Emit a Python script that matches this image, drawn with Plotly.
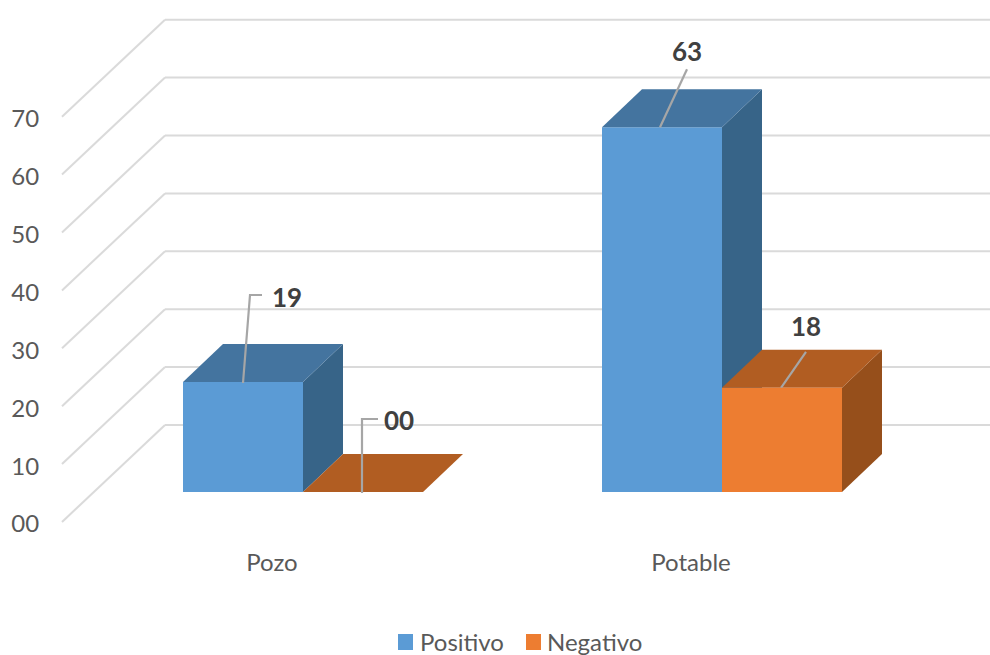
import plotly.graph_objects as go

# Chart data
categories = ["Pozo", "Potable"]
series_names = ["Positivo", "Negativo"]
positivo = [19, 63]
negativo = [0, 18]
value_labels = {"Positivo": ["19", "63"], "Negativo": ["00", "18"]}
tick_values = [0, 10, 20, 30, 40, 50, 60, 70]
tick_labels = ["00", "10", "20", "30", "40", "50", "60", "70"]

# Canvas and projection of the pseudo-3D scene (sizes in pixels)
WIDTH, HEIGHT = 990, 655
M_LEFT, M_BOTTOM = 60, 115
PLOT_H = HEIGHT - M_BOTTOM
PLOT_W = WIDTH - M_LEFT
PX_CAT = 419.0         # pixels per category step
PX_VAL = 5.79          # pixels per unit of value
ORIGIN_X = 303.0       # pixel of the centre of the first category
BASE_Y = 492.0         # pixel of value 0 on the front of the bars
BAR_W = 120 / PX_CAT
DEPTH_X, DEPTH_V = 40 / PX_CAT, 38 / PX_VAL
WALL_X, WALL_V = 165.0, (BASE_Y - 425) / PX_VAL
FRONT_X, FRONT_V = 62.0, (BASE_Y - 522) / PX_VAL
FONT = "Lato"
TEXT_GREY = "#595959"


def dx(px):
    return px / PX_CAT


def dv(px):
    return px / PX_VAL


def cat_x(pixel):
    return (pixel - ORIGIN_X) / PX_CAT


def paper_x(pixel):
    return (pixel - M_LEFT) / PLOT_W


def paper_y(pixel):
    return (PLOT_H - pixel) / PLOT_H


fig = go.Figure()

front_colors = {"Positivo": "#5B9BD5", "Negativo": "#ED7D31"}
top_colors = {"Positivo": "#44749F", "Negativo": "#B15D22"}
side_colors = {"Positivo": "#376488", "Negativo": "#964F1B"}
series_values = {"Positivo": positivo, "Negativo": negativo}
offsets = {"Positivo": -BAR_W, "Negativo": 0.0}

# Front faces; the orange columns sit on an overlaid subplot so they cover
# the side face of the blue column next to them
fig.add_trace(go.Bar(
    x=list(range(len(categories))), y=positivo, width=BAR_W,
    offset=offsets["Positivo"], name="Positivo",
    marker=dict(color=front_colors["Positivo"], line=dict(width=0)),
    hoverinfo="skip", showlegend=False,
))
fig.add_trace(go.Bar(
    x=list(range(len(categories))), y=negativo, width=BAR_W,
    offset=offsets["Negativo"], name="Negativo",
    marker=dict(color=front_colors["Negativo"], line=dict(width=0)),
    hoverinfo="skip", showlegend=False, xaxis="x2", yaxis="y2",
))

# Top and side faces, extruded from each bar's value
for name in series_names:
    for i, v in enumerate(series_values[name]):
        x0 = i + offsets[name]
        x1 = x0 + BAR_W
        fig.add_trace(go.Scatter(
            x=[x1, x1 + DEPTH_X, x1 + DEPTH_X, x1, x1],
            y=[0, DEPTH_V, v + DEPTH_V, v, 0],
            fill="toself", fillcolor=side_colors[name], mode="lines",
            line=dict(width=0), showlegend=False, hoverinfo="skip",
        ))
        fig.add_trace(go.Scatter(
            x=[x0, x1, x1 + DEPTH_X, x0 + DEPTH_X, x0],
            y=[v, v, v + DEPTH_V, v + DEPTH_V, v],
            fill="toself", fillcolor=top_colors[name], mode="lines",
            line=dict(width=0), showlegend=False, hoverinfo="skip",
        ))

# Leader lines and value labels, as pixel offsets from the top-left of each bar
leaders = {
    ("Positivo", 0): dict(path=[(60, 1), (67, -87), (79, -87)], text=(104, -85)),
    ("Negativo", 0): dict(path=[(59, 1), (59, -73), (75, -73)], text=(96, -72)),
    ("Positivo", 1): dict(path=[(58, 0), (85, -58)], text=(85, -76)),
    ("Negativo", 1): dict(path=[(59, 0), (84, -36)], text=(84, -62)),
}
annotations = []
for name in series_names:
    for i, v in enumerate(series_values[name]):
        x0 = i + offsets[name]
        spec = leaders[(name, i)]
        fig.add_trace(go.Scatter(
            x=[x0 + dx(p[0]) for p in spec["path"]],
            y=[v - dv(p[1]) for p in spec["path"]],
            mode="lines", line=dict(color="#A6A6A6", width=2.2),
            showlegend=False, hoverinfo="skip",
        ))
        annotations.append(dict(
            x=x0 + dx(spec["text"][0]), y=v - dv(spec["text"][1]),
            text="<b>" + value_labels[name][i] + "</b>", showarrow=False,
            xanchor="center", yanchor="middle",
            font=dict(family=FONT, size=26, color="#404040"),
        ))

# Wall and floor gridlines, kept underneath the columns
x_left = cat_x(FRONT_X)
x_wall = cat_x(WALL_X)
x_right = cat_x(WIDTH)
shapes = []
for t in tick_values:
    shapes.append(dict(type="line", layer="below", x0=x_left, y0=t + FRONT_V,
                       x1=x_wall, y1=t + WALL_V, line=dict(color="#DADADA", width=2)))
    shapes.append(dict(type="line", layer="below", x0=x_wall, y0=t + WALL_V,
                       x1=x_right, y1=t + WALL_V, line=dict(color="#DADADA", width=2)))

# Legend row along the bottom edge
legend_items = [("Positivo", 398, 420), ("Negativo", 526, 547)]
for name, swatch_px, text_px in legend_items:
    shapes.append(dict(type="rect", xref="paper", yref="paper", layer="above",
                       x0=paper_x(swatch_px), x1=paper_x(swatch_px + 15),
                       y0=paper_y(650), y1=paper_y(634),
                       fillcolor=front_colors[name], line=dict(width=0)))
    annotations.append(dict(
        xref="paper", yref="paper", x=paper_x(text_px), y=paper_y(641),
        text=name, showarrow=False, xanchor="left", yanchor="middle",
        xshift=-2, font=dict(family=FONT, size=24, color=TEXT_GREY),
    ))

x_range = [cat_x(M_LEFT), cat_x(WIDTH)]
y_range = [(BASE_Y - PLOT_H) / PX_VAL, BASE_Y / PX_VAL]

fig.update_layout(
    width=WIDTH, height=HEIGHT,
    margin=dict(l=M_LEFT, r=0, t=0, b=M_BOTTOM, pad=0, autoexpand=False),
    paper_bgcolor="white", plot_bgcolor="rgba(0,0,0,0)",
    barmode="overlay", showlegend=False,
    shapes=shapes, annotations=annotations,
    font=dict(family=FONT, color=TEXT_GREY, size=24),
    xaxis=dict(
        range=x_range,
        tickmode="array", tickvals=[i + cat_x(272) for i in range(len(categories))],
        ticktext=categories, showgrid=False, zeroline=False, showline=False,
        ticks="outside", ticklen=1, tickcolor="rgba(0,0,0,0)",
        tickfont=dict(family=FONT, size=24, color=TEXT_GREY),
    ),
    yaxis=dict(
        range=y_range,
        tickmode="array", tickvals=[t + FRONT_V - dv(2) for t in tick_values],
        ticktext=tick_labels, showgrid=False, zeroline=False, showline=False,
        ticks="outside", ticklen=15, tickcolor="rgba(0,0,0,0)",
        tickfont=dict(family=FONT, size=24, color=TEXT_GREY),
    ),
    xaxis2=dict(range=x_range, overlaying="x", visible=False),
    yaxis2=dict(range=y_range, overlaying="y", visible=False),
)

fig.write_html("out.html", config=dict(displayModeBar=False))
